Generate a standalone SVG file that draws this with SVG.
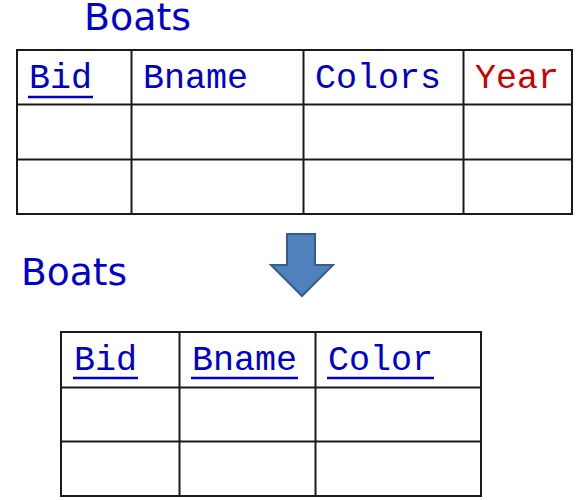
<svg xmlns="http://www.w3.org/2000/svg" width="583" height="500" viewBox="0 0 583 500">
<style>
.title{font-family:"DejaVu Sans",Verdana,sans-serif;font-size:37px;fill:#0000CC}
.hdr{font-family:"Liberation Mono","Courier New",monospace;font-size:35px;fill:#0000CC}
.red{fill:#CC0000}
.grid{fill:none;stroke:#1a1a1a;stroke-width:2}
.ul{stroke:#0000CC;stroke-width:2.5}
</style>
<rect width="583" height="500" fill="#ffffff"/>
<g id="boats-original">
<text class="title" x="84" y="30" textLength="107" lengthAdjust="spacingAndGlyphs">Boats</text>
<rect class="grid" x="17" y="50" width="555" height="164"/>
<path class="grid" d="M131.5 50V214M303.5 50V214M463.5 50V214M17 104.5H572M17 159.5H572"/>
<text class="hdr" x="29" y="88">Bid</text>
<line class="ul" x1="28" y1="97" x2="93" y2="97"/>
<text class="hdr" x="143" y="88">Bname</text>
<text class="hdr" x="315" y="88">Colors</text>
<text class="hdr red" x="475" y="88">Year</text>
</g>
<g id="connectors">
<path d="M287 234H315V265H333L302 296L271 265H287Z" fill="#4F81BD" stroke="#385D8A" stroke-width="2" stroke-linejoin="miter"/>
</g>
<g id="boats-new">
<text class="title" x="21" y="285" textLength="106" lengthAdjust="spacingAndGlyphs">Boats</text>
<rect class="grid" x="61" y="332" width="420" height="164"/>
<path class="grid" d="M179.5 332V496M315.5 332V496M61 387.5H481M61 441.5H481"/>
<text class="hdr" x="74" y="370">Bid</text>
<line class="ul" x1="73" y1="378" x2="138" y2="378"/>
<text class="hdr" x="192" y="370">Bname</text>
<line class="ul" x1="191" y1="378" x2="298" y2="378"/>
<text class="hdr" x="328" y="370">Color</text>
<line class="ul" x1="327" y1="378" x2="434" y2="378"/>
</g>
</svg>
